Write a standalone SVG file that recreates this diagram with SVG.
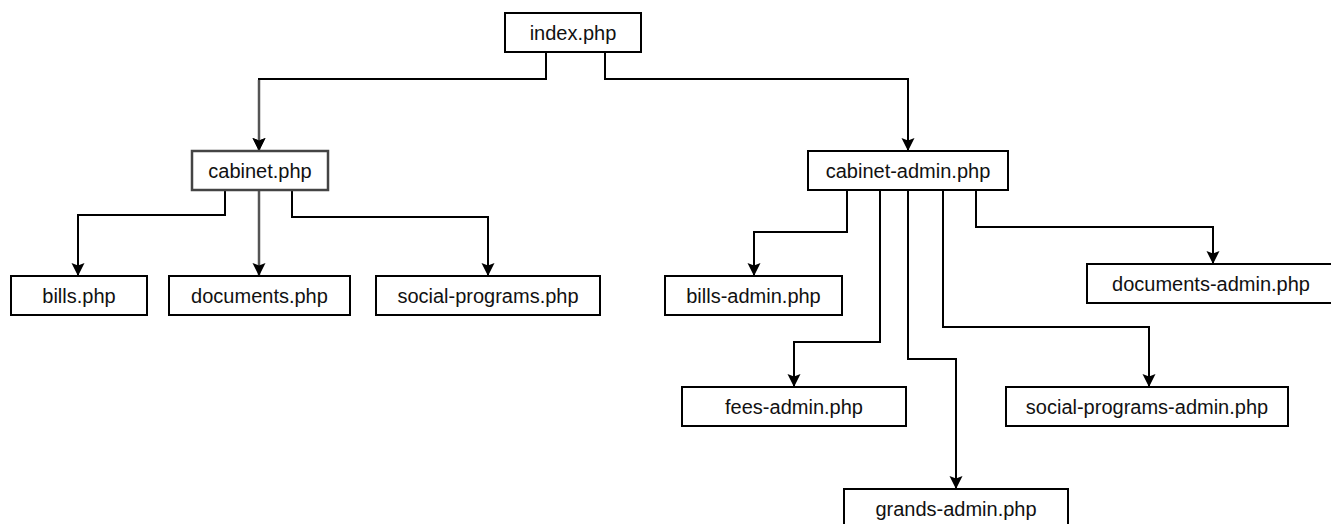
<svg xmlns="http://www.w3.org/2000/svg" width="1331" height="524" viewBox="0 0 1331 524">
<style>
.box{fill:#fff;stroke:#000;stroke-width:2}
.box.grey{stroke:#444;stroke-width:2.5}
.lbl{font-family:"Liberation Sans",Arial,sans-serif;font-size:20px;fill:#111;text-anchor:middle}
.edge{fill:none;stroke:#000;stroke-width:2}
.edge.grey{stroke:#555;stroke-width:2.5}
</style>
<defs>
<marker id="arr" markerUnits="userSpaceOnUse" markerWidth="14" markerHeight="14" refX="13" refY="7" orient="auto">
<path d="M0,0.5 L13,7 L0,13.5 L2.5,7 z" fill="#000"/>
</marker>
</defs>
<rect width="1331" height="524" fill="#fff"/>
<g id="connectors">
<path class="edge" d="M546,52 V79 H259 V151" marker-end="url(#arr)"/>
<path class="edge grey" d="M259,80 V151" marker-end="url(#arr)"/>
<path class="edge" d="M605,52 V79 H908 V151" marker-end="url(#arr)"/>
<path class="edge" d="M225,190 V215 H78 V276" marker-end="url(#arr)"/>
<path class="edge grey" d="M259,190 V276" marker-end="url(#arr)"/>
<path class="edge" d="M292,190 V217 H488 V276" marker-end="url(#arr)"/>
<path class="edge" d="M847,190 V232 H754 V276" marker-end="url(#arr)"/>
<path class="edge" d="M976,190 V227 H1213 V264" marker-end="url(#arr)"/>
<path class="edge" d="M880,190 V342 H794 V387" marker-end="url(#arr)"/>
<path class="edge" d="M908,190 V359 H956 V489" marker-end="url(#arr)"/>
<path class="edge" d="M943,190 V327 H1149 V387" marker-end="url(#arr)"/>
</g>
<g id="index"><rect class="box" x="505" y="13" width="136" height="39"/><text class="lbl" x="573" y="39.5">index.php</text></g>
<g id="cabinet"><rect class="box grey" x="192" y="151" width="136" height="39"/><text class="lbl" x="260" y="177.5">cabinet.php</text></g>
<g id="cabinet-admin"><rect class="box" x="808" y="151" width="200" height="39"/><text class="lbl" x="908" y="177.5">cabinet-admin.php</text></g>
<g id="bills"><rect class="box" x="11" y="276" width="136" height="39"/><text class="lbl" x="79" y="302.5">bills.php</text></g>
<g id="documents"><rect class="box" x="169" y="276" width="181" height="39"/><text class="lbl" x="259.5" y="302.5">documents.php</text></g>
<g id="social-programs"><rect class="box" x="376" y="276" width="224" height="39"/><text class="lbl" x="488" y="302.5">social-programs.php</text></g>
<g id="bills-admin"><rect class="box" x="665" y="276" width="177" height="39"/><text class="lbl" x="753.5" y="302.5">bills-admin.php</text></g>
<g id="documents-admin"><rect class="box" x="1087" y="264" width="250" height="39"/><text class="lbl" x="1211" y="290.5">documents-admin.php</text></g>
<g id="fees-admin"><rect class="box" x="682" y="387" width="224" height="39"/><text class="lbl" x="794" y="413.5">fees-admin.php</text></g>
<g id="social-programs-admin"><rect class="box" x="1006" y="387" width="282" height="39"/><text class="lbl" x="1147" y="413.5">social-programs-admin.php</text></g>
<g id="grands-admin"><rect class="box" x="844" y="489" width="224" height="39"/><text class="lbl" x="956" y="515.5">grands-admin.php</text></g>
</svg>
